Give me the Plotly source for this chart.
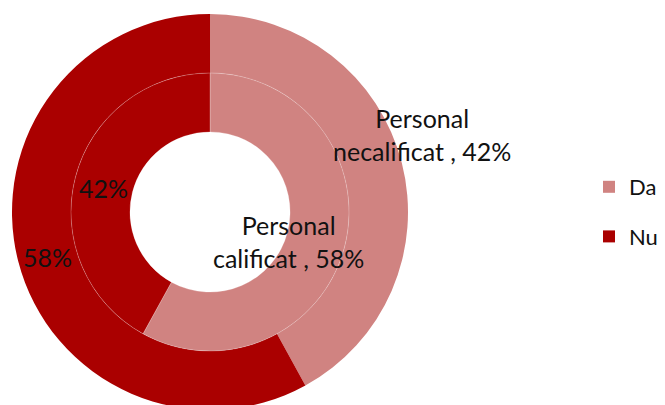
import plotly.graph_objects as go

categories = ["Da", "Nu"]
outer_values = [42, 58]   # Personal necalificat
inner_values = [58, 42]   # Personal calificat
outer_name = "Personal necalificat"
inner_name = "Personal calificat"
colors = ["#D08381", "#AA0000"]

W, H = 665, 405
OFF = 8  # page body margin
FONT = "Lato"


def px_x(x):
    return (x - OFF) / W


def px_y(y):
    return (H - (y - OFF)) / H


fig = go.Figure()

# outer ring
fig.add_trace(go.Pie(
    labels=categories, values=outer_values, sort=False, direction="clockwise",
    rotation=0, hole=0.702, textinfo="none", hoverinfo="label+percent",
    marker=dict(colors=colors, line=dict(width=0)),
    domain=dict(x=[px_x(12), px_x(408)], y=[px_y(410), px_y(14)]),
    showlegend=False, name=outer_name,
))

# inner ring
fig.add_trace(go.Pie(
    labels=categories, values=inner_values, sort=False, direction="clockwise",
    rotation=0, hole=0.576, textinfo="none", hoverinfo="label+percent",
    marker=dict(colors=colors, line=dict(width=0.6, color="rgba(255,255,255,0.4)")),
    domain=dict(x=[px_x(71), px_x(349)], y=[px_y(351), px_y(73)]),
    showlegend=False, name=inner_name,
))

# legend entries
for i, (cat, col) in enumerate(zip(categories, colors)):
    fig.add_trace(go.Scatter(
        x=[None], y=[None], mode="markers", name=cat, legendgroup=f"g{i}",
        marker=dict(symbol="square", size=12, color=col),
    ))

label_font = dict(family=FONT, size=25, color="#111111")
annotations = [
    dict(text=f"{outer_name.replace(' ', '<br>', 1)} , {outer_values[0]}%",
         x=px_x(422), y=px_y(135)),
    dict(text=f"{inner_name.replace(' ', '<br>', 1)} , {inner_values[0]}%",
         x=px_x(288), y=px_y(241)),
    dict(text=f"{inner_values[1]}%", x=px_x(103), y=px_y(188)),
    dict(text=f"{outer_values[1]}%", x=px_x(47), y=px_y(257)),
]
for a in annotations:
    a.update(xref="paper", yref="paper", showarrow=False, font=label_font,
             xanchor="center", yanchor="middle", align="center")

fig.update_layout(
    width=W, height=H,
    margin=dict(l=0, r=0, t=0, b=0),
    paper_bgcolor="white", plot_bgcolor="white",
    xaxis=dict(visible=False), yaxis=dict(visible=False),
    annotations=annotations,
    legend=dict(x=px_x(589), y=px_y(212), xanchor="left", yanchor="middle",
                font=dict(family=FONT, size=22, color="#111111"),
                tracegroupgap=18, bgcolor="rgba(0,0,0,0)"),
)

fig.write_html("out.html")
